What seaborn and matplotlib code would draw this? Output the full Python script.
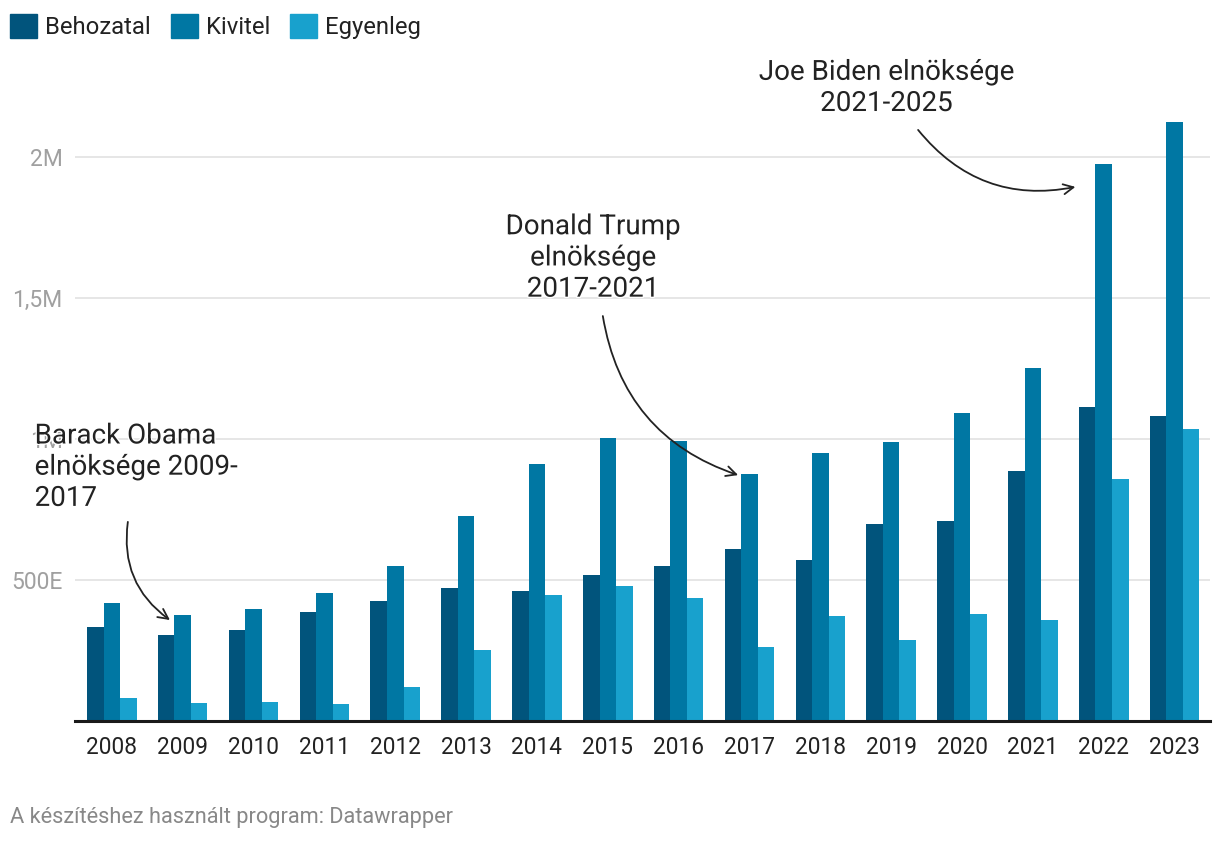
import matplotlib
matplotlib.use("Agg")
import matplotlib.pyplot as plt
import seaborn as sns
import pandas as pd
import matplotlib.patheffects as pe

years = [str(y) for y in range(2008, 2024)]
behozatal = [333, 305, 323, 387, 426, 472, 461, 518, 550, 610, 571, 699, 709, 887, 1113, 1082]
kivitel = [418, 376, 397, 454, 550, 727, 911, 1004, 993, 876, 950, 989, 1092, 1252, 1975, 2124]
egyenleg = [82, 64, 67, 60, 121, 252, 447, 479, 436, 262, 372, 287, 379, 358, 858, 1035]
series = ["Behozatal", "Kivitel", "Egyenleg"]
colors = ["#01547c", "#0077a3", "#18a1cd"]
ytick_vals = [500000, 1000000, 1500000, 2000000]
ytick_labels = ["500E", "1M", "1,5M", "2M"]

df = pd.DataFrame({
    "year": years * 3,
    "series": sum([[s] * len(years) for s in series], []),
    "value": [v * 1000 for v in behozatal + kivitel + egyenleg],
})

sns.set_theme(style="white")
plt.rcParams["font.family"] = ["Roboto", "DejaVu Sans"]

fig = plt.figure(figsize=(12.2, 8.44), dpi=100)
ax = fig.add_axes([75 / 1220, 123 / 844, (1210 - 75) / 1220, (721 - 100) / 844])

sns.barplot(data=df, x="year", y="value", hue="series", palette=colors,
            width=0.7, saturation=1, gap=0, ax=ax, legend=False, zorder=2,
            linewidth=0, edgecolor="none")

ax.set_xlim(-0.52, 15.5)
ax.set_ylim(0, 621 / 282 * 1e6)
ax.set_yticks(ytick_vals)
ax.set_yticklabels(ytick_labels, color="#a0a0a0", fontsize=16.5)
ax.tick_params(axis="y", length=0, pad=9)
ax.tick_params(axis="x", length=0, pad=11, labelsize=16.3, labelcolor="#222222")
ax.set_xlabel("")
ax.set_ylabel("")
ax.grid(axis="y", color="#e2e2e2", lw=1.2, zorder=0)
ax.set_axisbelow(True)
for s in ["left", "right", "top"]:
    ax.spines[s].set_visible(False)
ax.spines["bottom"].set_color("#1a1a1a")
ax.spines["bottom"].set_linewidth(2.2)

# legend
handles = [plt.Rectangle((0, 0), 1, 1, color=c) for c in colors]
fig.legend(handles, series, loc="upper left", bbox_to_anchor=(10 / 1220, 1 - 14 / 844),
           ncol=3, frameon=False, fontsize=17.2, handlelength=1.14, handleheight=1.14,
           handletextpad=0.33, columnspacing=0.83, labelcolor="#222222",
           borderaxespad=0, borderpad=0)

txt_kw = dict(fontsize=20, color="#222222", linespacing=1.2,
              path_effects=[pe.withStroke(linewidth=2, foreground="white")], zorder=5)
ax.text(-1.09, 0.90e6, "Barack Obama\nelnöksége 2009-\n2017", ha="left", va="center",
        clip_on=False, **txt_kw)
ax.text(6.79, 1.642e6, "Donald Trump\nelnöksége\n2017-2021", ha="center", va="center",
        clip_on=False, **txt_kw)
ax.text(10.93, 2.245e6, "Joe Biden elnöksége\n2021-2025", ha="center", va="center",
        clip_on=False, **txt_kw)

arrow_kw = dict(arrowstyle="->,head_length=0.6,head_width=0.3", color="#222222", lw=1.3,
                connectionstyle="arc3,rad=0.3", shrinkA=0, shrinkB=0)
ax.annotate("", xy=(0.82, 0.358e6), xytext=(0.226, 0.706e6), arrowprops=arrow_kw,
            annotation_clip=False)
ax.annotate("", xy=(8.84, 0.872e6), xytext=(6.93, 1.436e6), arrowprops=arrow_kw,
            annotation_clip=False)
ax.annotate("", xy=(13.6, 1.894e6), xytext=(11.38, 2.096e6), arrowprops=arrow_kw,
            annotation_clip=False)

fig.text(10 / 1220, 1 - 818 / 844, "A készítéshez használt program: Datawrapper",
         fontsize=15.7, color="#888888", ha="left", va="center")

fig.savefig("out.png", dpi=100, facecolor="white")
